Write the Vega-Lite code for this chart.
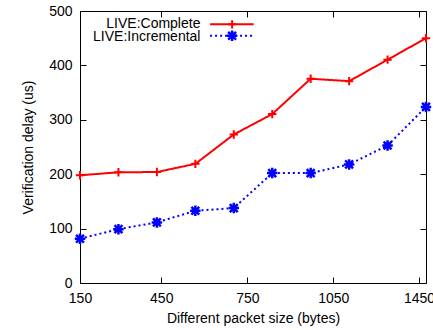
{
  "$schema": "https://vega.github.io/schema/vega-lite/v6.json",
  "autosize": {"type": "none"},
  "width": 346,
  "height": 272,
  "padding": {"left": 80, "top": 11, "right": 7, "bottom": 47},
  "config": {
    "view": {"stroke": "#000000", "strokeWidth": 1},
    "font": "Liberation Sans",
    "axis": {
      "domain": false,
      "grid": false,
      "tickColor": "#000000",
      "tickWidth": 1,
      "labelFont": "Liberation Sans",
      "labelFontSize": 14,
      "labelColor": "#000000",
      "titleFont": "Liberation Sans",
      "titleFontSize": 14,
      "titleFontWeight": "normal",
      "titleColor": "#000000"
    }
  },
  "datasets": {
    "delays": [
      {"series": "LIVE:Complete", "size": 150, "delay": 198},
      {"series": "LIVE:Complete", "size": 300, "delay": 203.5},
      {"series": "LIVE:Complete", "size": 450, "delay": 204},
      {"series": "LIVE:Complete", "size": 600, "delay": 219},
      {"series": "LIVE:Complete", "size": 750, "delay": 273},
      {"series": "LIVE:Complete", "size": 900, "delay": 310.5},
      {"series": "LIVE:Complete", "size": 1050, "delay": 375.5},
      {"series": "LIVE:Complete", "size": 1200, "delay": 371},
      {"series": "LIVE:Complete", "size": 1350, "delay": 410.5},
      {"series": "LIVE:Complete", "size": 1500, "delay": 450},
      {"series": "LIVE:Incremental", "size": 150, "delay": 81.4},
      {"series": "LIVE:Incremental", "size": 300, "delay": 99},
      {"series": "LIVE:Incremental", "size": 450, "delay": 111.4},
      {"series": "LIVE:Incremental", "size": 600, "delay": 132.8},
      {"series": "LIVE:Incremental", "size": 750, "delay": 137.7},
      {"series": "LIVE:Incremental", "size": 900, "delay": 202},
      {"series": "LIVE:Incremental", "size": 1050, "delay": 202},
      {"series": "LIVE:Incremental", "size": 1200, "delay": 218},
      {"series": "LIVE:Incremental", "size": 1350, "delay": 252.7},
      {"series": "LIVE:Incremental", "size": 1500, "delay": 323.7}
    ],
    "one": [{"k": 1}]
  },
  "data": {"name": "delays"},
  "resolve": {"axis": {"x": "independent", "y": "independent"}},
  "layer": [
    {
      "mark": {"type": "line", "strokeWidth": 2, "clip": false},
      "encoding": {
        "x": {"field": "size", "type": "quantitative",
          "scale": {"domain": [150, 1500], "nice": false, "zero": false},
          "axis": {"orient": "bottom", "values": [150, 467, 803, 1138, 1473],
            "labelExpr": "datum.value == 150 ? '150' : datum.value == 467 ? '450' : datum.value == 803 ? '750' : datum.value == 1138 ? '1050' : '1450'",
            "tickSize": -6, "labelPadding": 14, "labelFlush": false,
            "title": "Different packet size (bytes)", "titlePadding": 6}},
        "y": {"field": "delay", "type": "quantitative",
          "scale": {"domain": [0, 500], "nice": false},
          "axis": {"orient": "left", "values": [0, 100, 200, 300, 400, 500],
            "tickSize": -6, "labelPadding": 14,
            "title": "Verification delay (us)", "titlePadding": 13}},
        "color": {"field": "series", "type": "nominal",
          "scale": {"domain": ["LIVE:Complete", "LIVE:Incremental"], "range": ["#ff0000", "#0000ff"]},
          "legend": null},
        "strokeDash": {"field": "series", "type": "nominal",
          "scale": {"domain": ["LIVE:Complete", "LIVE:Incremental"], "range": [[1, 0], [2, 3]]},
          "legend": null}
      }
    },
    {
      "mark": {"type": "point", "filled": false, "opacity": 1, "clip": false},
      "encoding": {
        "x": {"field": "size", "type": "quantitative",
          "axis": {"orient": "top", "values": [150, 467, 803, 1138, 1473], "labels": false, "tickSize": -6, "title": null}},
        "y": {"field": "delay", "type": "quantitative",
          "axis": {"orient": "right", "values": [0, 100, 200, 300, 400, 500], "labels": false, "tickSize": -6, "title": null}},
        "color": {"field": "series", "type": "nominal", "legend": null},
        "shape": {"field": "series", "type": "nominal",
          "scale": {"domain": ["LIVE:Complete", "LIVE:Incremental"],
            "range": ["M-1,0L1,0M0,-1L0,1", "M-1,0L1,0M0,-1L0,1M-0.75,-0.75L0.75,0.75M-0.75,0.75L0.75,-0.75"]},
          "legend": null},
        "size": {"field": "series", "type": "nominal",
          "scale": {"domain": ["LIVE:Complete", "LIVE:Incremental"], "range": [70, 110]},
          "legend": null},
        "strokeWidth": {"field": "series", "type": "nominal",
          "scale": {"domain": ["LIVE:Complete", "LIVE:Incremental"], "range": [2, 2.5]},
          "legend": null}
      }
    },
    {
      "data": {"name": "one"},
      "mark": {"type": "text", "align": "right", "baseline": "middle", "fontSize": 14, "font": "Liberation Sans", "color": "#000000"},
      "encoding": {
        "x": {"datum": 620, "type": "quantitative", "axis": null},
        "y": {"datum": 476.5, "type": "quantitative", "axis": null},
        "text": {"value": "LIVE:Complete"}
      }
    },
    {
      "data": {"name": "one"},
      "mark": {"type": "text", "align": "right", "baseline": "middle", "fontSize": 14, "font": "Liberation Sans", "color": "#000000"},
      "encoding": {
        "x": {"datum": 620, "type": "quantitative", "axis": null},
        "y": {"datum": 451.6, "type": "quantitative", "axis": null},
        "text": {"value": "LIVE:Incremental"}
      }
    },
    {
      "data": {"name": "one"},
      "mark": {"type": "rule", "color": "#ff0000", "strokeWidth": 2},
      "encoding": {
        "x": {"datum": 657.5, "type": "quantitative", "axis": null},
        "x2": {"datum": 827.5},
        "y": {"datum": 475.5, "type": "quantitative", "axis": null}
      }
    },
    {
      "data": {"name": "one"},
      "mark": {"type": "rule", "color": "#0000ff", "strokeWidth": 2, "strokeDash": [2, 3]},
      "encoding": {
        "x": {"datum": 657.5, "type": "quantitative", "axis": null},
        "x2": {"datum": 827.5},
        "y": {"datum": 454.4, "type": "quantitative", "axis": null}
      }
    },
    {
      "data": {"name": "one"},
      "mark": {"type": "point", "filled": false, "strokeWidth": 2, "opacity": 1, "color": "#ff0000", "size": 70, "shape": "M-1,0L1,0M0,-1L0,1"},
      "encoding": {
        "x": {"datum": 743.5, "type": "quantitative", "axis": null},
        "y": {"datum": 475.5, "type": "quantitative", "axis": null}
      }
    },
    {
      "data": {"name": "one"},
      "mark": {"type": "point", "filled": false, "strokeWidth": 2.5, "opacity": 1, "color": "#0000ff", "size": 110, "shape": "M-1,0L1,0M0,-1L0,1M-0.75,-0.75L0.75,0.75M-0.75,0.75L0.75,-0.75"},
      "encoding": {
        "x": {"datum": 743.5, "type": "quantitative", "axis": null},
        "y": {"datum": 454.4, "type": "quantitative", "axis": null}
      }
    }
  ]
}
